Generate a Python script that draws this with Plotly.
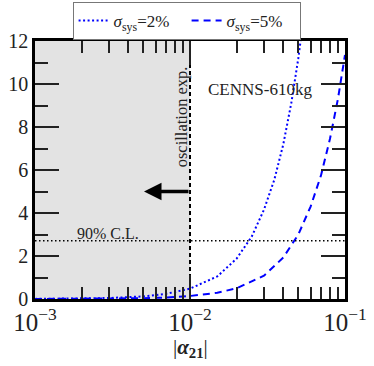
import numpy as np
import plotly.graph_objects as go

# coupling |alpha_21| and delta chi^2
alpha_2pct = [0.001, 0.002, 0.003, 0.005, 0.007, 0.01, 0.015, 0.02, 0.025,
              0.03, 0.035, 0.04, 0.045, 0.05, 0.055]
chi2_2pct = [0.005, 0.02, 0.045, 0.12, 0.24, 0.48, 1.05, 1.88, 2.9,
             4.15, 5.55, 7.2, 9.1, 11.2, 13.5]

alpha_5pct = [0.001, 0.002, 0.003, 0.005, 0.007, 0.01, 0.015, 0.02, 0.03,
              0.04, 0.05, 0.06, 0.07, 0.08, 0.09, 0.1]
chi2_5pct = [0.002, 0.006, 0.013, 0.035, 0.07, 0.14, 0.29, 0.5, 1.08,
             1.93, 3.0, 4.3, 5.75, 7.45, 9.3, 11.35]

cl90 = 2.71          # 90% C.L. level
osc_bound = 0.01     # oscillation experiments bound
x_range = [0.001, 0.1]
y_range = [0, 12]

FONT = "Liberation Serif"
INK = "#222"

fig = go.Figure()

# shaded region excluded by oscillation experiments
fig.add_shape(type="rect", xref="x", yref="y", x0=x_range[0], x1=osc_bound,
              y0=y_range[0], y1=y_range[1], fillcolor="#e3e3e3",
              line=dict(width=0), layer="below")

fig.add_trace(go.Scatter(x=alpha_2pct, y=chi2_2pct, mode="lines",
                         name="<i>σ</i><sub>sys</sub>=2%",
                         line=dict(color="blue", width=2, dash="2px,2.5px")))
fig.add_trace(go.Scatter(x=alpha_5pct, y=chi2_5pct, mode="lines",
                         name="<i>σ</i><sub>sys</sub>=5%",
                         line=dict(color="blue", width=2, dash="7px,5px")))

# 90% C.L. line and oscillation bound
fig.add_trace(go.Scatter(x=x_range, y=[cl90, cl90], mode="lines", showlegend=False,
                         line=dict(color="black", width=1.5, dash="1.5px,2.5px")))
fig.add_trace(go.Scatter(x=[osc_bound, osc_bound], y=y_range, mode="lines", showlegend=False,
                         line=dict(color="black", width=2, dash="4px,3px")))

# invisible trace so the mirrored top/right axes get drawn
fig.add_trace(go.Scatter(x=x_range, y=y_range, xaxis="x2", yaxis="y2", mode="lines",
                         line=dict(width=0), showlegend=False, hoverinfo="skip"))

fig.add_annotation(x=np.log10(0.00505), y=5, ax=np.log10(osc_bound), ay=5,
                   xref="x", yref="y", axref="x", ayref="y", text="",
                   showarrow=True, arrowhead=2, arrowsize=1, arrowwidth=3.5,
                   arrowcolor="black")
fig.add_annotation(x=np.log10(0.00875), y=8.45, xref="x", yref="y",
                   text="oscillation exp.", textangle=-90, showarrow=False,
                   xanchor="center", yanchor="middle",
                   font=dict(family=FONT, size=16.5, color=INK))
fig.add_annotation(x=np.log10(0.0283), y=9.75, xref="x", yref="y",
                   text="CENNS-610kg", showarrow=False,
                   font=dict(family=FONT, size=17, color=INK))
fig.add_annotation(x=np.log10(0.00296), y=3.07, xref="x", yref="y",
                   text="90% C.L.", showarrow=False,
                   font=dict(family=FONT, size=16, color=INK))
fig.add_annotation(x=0.5, y=-0.19, xref="paper", yref="paper",
                   text="|<b><i>α</i></b><sub><b>21</b></sub>|", showarrow=False,
                   xanchor="center", yanchor="middle",
                   font=dict(family=FONT, size=21, color=INK))

axis_common = dict(showline=True, linecolor="black", linewidth=2.5,
                   ticks="inside", tickcolor=INK, tickwidth=1.5, showgrid=False,
                   zeroline=False, automargin=False,
                   tickfont=dict(family=FONT, size=20, color=INK))
x_common = dict(type="log", range=[np.log10(x_range[0]), np.log10(x_range[1])],
                dtick=1, exponentformat="power", ticklen=24,
                minor=dict(dtick="D1", ticks="inside", ticklen=12, tickcolor=INK,
                           tickwidth=1.5, showgrid=False))
y_common = dict(range=y_range, dtick=2, ticklen=24,
                minor=dict(dtick=1, ticks="inside", ticklen=13, tickcolor=INK,
                           tickwidth=1.5, showgrid=False))

fig.update_layout(
    width=374, height=366,
    margin=dict(l=35, r=29, t=41, b=67, autoexpand=False),
    paper_bgcolor="white", plot_bgcolor="white",
    font=dict(family=FONT, color=INK),
    xaxis=dict(**x_common, **axis_common),
    yaxis=dict(**y_common, **axis_common),
    xaxis2=dict(**x_common, **axis_common, overlaying="x", side="top",
                showticklabels=False),
    yaxis2=dict(**y_common, **axis_common, overlaying="y", side="right",
                showticklabels=False),
    legend=dict(orientation="h", x=0.489, xanchor="center", y=1.151, yanchor="top",
                bordercolor="#777", borderwidth=1, bgcolor="white",
                entrywidth=68, itemwidth=30,
                font=dict(family=FONT, size=17, color=INK)),
)

# drop the default 8px body margin so the figure sits at the window's corner
fig.write_html("out.html", config={"displayModeBar": False},
               post_script="document.body.style.margin='0';")
